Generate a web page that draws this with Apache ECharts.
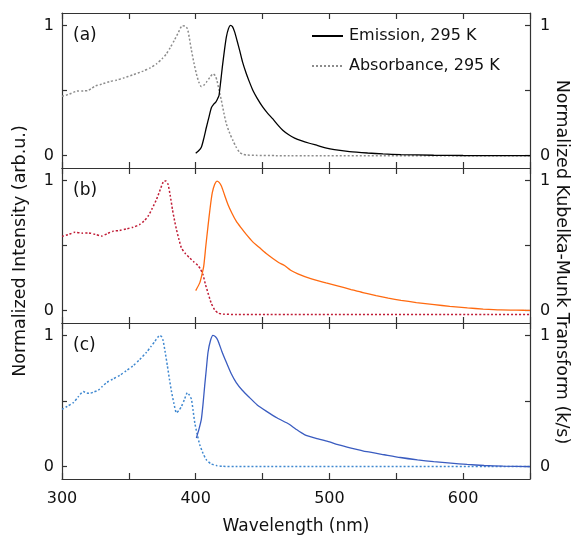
<!DOCTYPE html>
<html>
<head>
<meta charset="utf-8">
<script src="https://cdn.jsdelivr.net/npm/echarts@6/dist/echarts.min.js"></script>
<style>html,body{margin:0;padding:0;background:#fff}#c{width:575px;height:543px}</style>
</head>
<body>
<div id="c"></div>
<script>
// ---- data (wavelength nm, normalized value) ----
const xTicks = [300, 400, 500, 600];
const panelLabels = ['(a)', '(b)', '(c)'];
const legendNames = ['Emission, 295 K', 'Absorbance, 295 K'];

const emissionA = [[400,0.018],[402,0.035],[404.2,0.064],[406,0.13],[408,0.218],[410,0.3],[411.7,0.367],[413.5,0.395],[415,0.41],[416.5,0.44],[417.4,0.46],[418.7,0.57],[419.9,0.68],[421.5,0.81],[422.9,0.91],[424.5,0.975],[425.9,1.0],[427.5,0.99],[429.1,0.95],[431,0.88],[432.8,0.81],[435,0.72],[437.8,0.63],[440,0.57],[442.8,0.5],[446,0.44],[450.2,0.372],[454,0.323],[457.7,0.282],[461,0.24],[465.1,0.195],[469.6,0.16],[474,0.135],[478.9,0.115],[485,0.095],[491.3,0.077],[497,0.06],[503.7,0.046],[515,0.031],[528.6,0.02],[540,0.013],[553.5,0.008],[578,0.003],[600,0.001],[650,0]];
const absorbanceA = [[300,0.456],[305,0.47],[311,0.495],[316,0.497],[319.6,0.5],[322,0.515],[324.6,0.533],[330,0.55],[335.8,0.569],[341,0.58],[345.8,0.595],[353,0.62],[360.7,0.649],[366,0.674],[370.7,0.705],[375,0.745],[378,0.78],[381,0.83],[384,0.885],[387,0.945],[390,0.998],[392,0.995],[393.8,0.975],[395.3,0.9],[396.8,0.81],[398.7,0.71],[400.5,0.628],[402.3,0.565],[404.2,0.53],[406,0.54],[408,0.564],[410.5,0.6],[413,0.628],[414.5,0.615],[415.9,0.577],[417.5,0.5],[419.2,0.423],[421,0.33],[422.9,0.244],[425.5,0.17],[427.9,0.115],[430,0.07],[432.8,0.025],[435,0.012],[437.8,0.005],[445,0.002],[460,0],[650,0]];

const emissionB = [[400,0.154],[403,0.213],[404.5,0.27],[406,0.341],[407.6,0.5],[409.2,0.649],[410.8,0.79],[412.4,0.905],[414.2,0.97],[415.9,0.995],[417.5,0.985],[419.2,0.956],[421.5,0.89],[424.1,0.815],[427,0.75],[430.3,0.687],[434,0.635],[437.8,0.585],[442.5,0.53],[447.8,0.482],[452.5,0.44],[457.7,0.4],[462,0.37],[466.4,0.346],[471,0.31],[476.4,0.282],[486,0.245],[497.5,0.213],[506,0.19],[516.2,0.162],[525,0.138],[534.9,0.115],[544,0.096],[553.5,0.079],[565,0.062],[578.4,0.046],[590,0.033],[603.2,0.021],[615,0.012],[628.1,0.005],[645,0.003],[650,0.002]];
const absorbanceB = [[300,0.57],[305,0.585],[309.7,0.602],[315,0.595],[319.6,0.597],[325,0.585],[329.6,0.572],[334,0.592],[338.3,0.61],[343,0.615],[348.3,0.628],[353,0.64],[358.2,0.662],[361.5,0.69],[364.4,0.725],[367.5,0.785],[370.7,0.854],[373.5,0.93],[376.3,0.995],[377.8,0.995],[379.3,0.97],[381,0.88],[382.6,0.777],[384.2,0.69],[385.6,0.623],[387.5,0.545],[389.3,0.482],[392.5,0.435],[395.5,0.405],[398.5,0.375],[401.7,0.346],[403.5,0.32],[405.4,0.277],[407.3,0.2],[409.2,0.136],[411.5,0.06],[414.2,0.005],[417,-0.02],[420.4,-0.026],[430,-0.03],[650,-0.03]];

const emissionC = [[400.5,0.218],[402.3,0.28],[404.2,0.36],[405.5,0.48],[406.7,0.615],[408,0.75],[409.2,0.872],[411,0.96],[412.9,1.0],[414.8,0.99],[416.6,0.962],[419.5,0.88],[422.9,0.795],[426.5,0.71],[430.3,0.641],[435,0.58],[440.3,0.526],[446,0.47],[452.7,0.423],[461,0.37],[469.6,0.325],[475,0.285],[481.3,0.244],[490,0.215],[498.7,0.192],[507,0.165],[516.2,0.141],[528,0.113],[541,0.09],[553,0.069],[565.9,0.051],[578,0.037],[590.8,0.026],[603,0.016],[615.7,0.008],[630,0.003],[650,0]];
const absorbanceC = [[300,0.436],[304,0.46],[308.5,0.488],[312,0.53],[315.9,0.572],[318.5,0.562],[320.9,0.559],[324,0.57],[327.1,0.582],[330,0.61],[333.4,0.641],[338,0.667],[343.3,0.697],[348,0.73],[353.2,0.769],[358,0.815],[363.2,0.872],[366.5,0.915],[369.4,0.954],[371.5,0.985],[373.1,1.0],[374.5,0.99],[375.6,0.962],[377.2,0.87],[378.8,0.769],[380.3,0.67],[381.8,0.577],[383.7,0.48],[385.6,0.41],[387.5,0.43],[389.3,0.457],[391.5,0.51],[393.8,0.564],[395.3,0.545],[396.8,0.513],[398,0.43],[399.3,0.333],[401,0.25],[403,0.167],[405.5,0.1],[408,0.051],[411.5,0.02],[415.4,0.008],[420,0.002],[430,0],[650,0]];

const panels = [
  {em: emissionA, ab: absorbanceA, emColor: '#000000', abColor: '#8c8c8c'},
  {em: emissionB, ab: absorbanceB, emColor: '#ff6a10', abColor: '#c01c36'},
  {em: emissionC, ab: absorbanceC, emColor: '#3a5cc0', abColor: '#3f88d0'}
];

const FONT = 'DejaVu Sans';
const AX = '#333333';
const grids = [
  {left: 62, right: 45, top: 13, height: 155},
  {left: 62, right: 45, top: 168, height: 155},
  {left: 62, right: 45, top: 323, height: 156}
];

const xAxes = [], yAxes = [], series = [];
panels.forEach((p, i) => {
  const last = i === 2;
  xAxes.push({
    type: 'value', gridIndex: i, position: 'bottom', min: 300, max: 650, interval: 50,
    axisLine: {show: true, onZero: false, lineStyle: {color: AX, width: 1.2}},
    axisTick: {show: true, inside: true, length: 6, lineStyle: {color: AX, width: 1.2}},
    axisLabel: {show: last, fontFamily: FONT, fontSize: 16, color: '#111', margin: 12,
      formatter: v => (xTicks.indexOf(v) >= 0 ? String(v) : '')},
    splitLine: {show: false},
    name: last ? 'Wavelength (nm)' : '', nameLocation: 'middle', nameGap: 39,
    nameTextStyle: {fontFamily: FONT, fontSize: 17, color: '#111'}
  });
  xAxes.push({
    type: 'value', gridIndex: i, position: 'top', min: 300, max: 650, interval: 50,
    axisLine: {show: true, onZero: false, lineStyle: {color: AX, width: 1.2}},
    axisTick: {show: true, inside: true, length: 6, lineStyle: {color: AX, width: 1.2}},
    axisLabel: {show: false}, splitLine: {show: false}
  });
  const yBase = {
    type: 'value', gridIndex: i, min: -0.095, max: 1.095,
    axisLine: {show: true, onZero: false, lineStyle: {color: AX, width: 1.2}},
    axisTick: {show: true, inside: true, length: 5, customValues: [0, 0.5, 1], lineStyle: {color: AX, width: 1.2}},
    axisLabel: {show: true, customValues: [0, 1], fontFamily: FONT, fontSize: 16, color: '#111'},
    splitLine: {show: false}
  };
  yAxes.push(Object.assign({}, yBase, {position: 'left', axisLabel: Object.assign({}, yBase.axisLabel, {margin: 8})}));
  yAxes.push(Object.assign({}, yBase, {position: 'right', axisLabel: Object.assign({}, yBase.axisLabel, {margin: 10})}));
  series.push({
    name: i === 0 ? legendNames[1] : 'abs' + i, type: 'line', xAxisIndex: 2 * i, yAxisIndex: 2 * i,
    data: p.ab, showSymbol: false, symbol: 'none', smooth: 0.2, clip: true,
    lineStyle: {color: p.abColor, width: 1.5, type: [2, 2]}, itemStyle: {color: p.abColor}
  });
  series.push({
    name: i === 0 ? legendNames[0] : 'em' + i, type: 'line', xAxisIndex: 2 * i, yAxisIndex: 2 * i,
    data: p.em, showSymbol: false, symbol: 'none', smooth: 0.2, clip: true,
    lineStyle: {color: p.emColor, width: 1.3}, itemStyle: {color: p.emColor}
  });
});

const graphics = panelLabels.map((t, i) => ({
  type: 'text', left: 73, top: grids[i].top + 14,
  style: {text: t, font: '17px "DejaVu Sans"', fill: '#111'}
}));
graphics.push({
  type: 'text', x: 20, y: 251, rotation: Math.PI / 2,
  style: {text: 'Normalized Intensity (arb.u.)', font: '17.5px "DejaVu Sans"', fill: '#111', align: 'center', verticalAlign: 'middle'}
});
graphics.push({
  type: 'text', x: 562, y: 262, rotation: -Math.PI / 2,
  style: {text: 'Normalized Kubelka-Munk Transform (k/s)', font: '17.5px "DejaVu Sans"', fill: '#111', align: 'center', verticalAlign: 'middle'}
});

const chart = echarts.init(document.getElementById('c'), null, {renderer: 'canvas'});
chart.setOption({
  animation: false,
  backgroundColor: '#fff',
  grid: grids,
  xAxis: xAxes,
  yAxis: yAxes,
  legend: {
    show: true, data: legendNames, orient: 'vertical', left: 306, top: 23, bottom: 'auto', right: 'auto',
    itemWidth: 31, itemHeight: 14, itemGap: 14,
    itemStyle: {opacity: 0},
    textStyle: {fontFamily: FONT, fontSize: 16, color: '#111', padding: [0, 0, 0, 1]}, selectedMode: false
  },
  graphic: graphics,
  series: series
});
</script>
</body>
</html>
